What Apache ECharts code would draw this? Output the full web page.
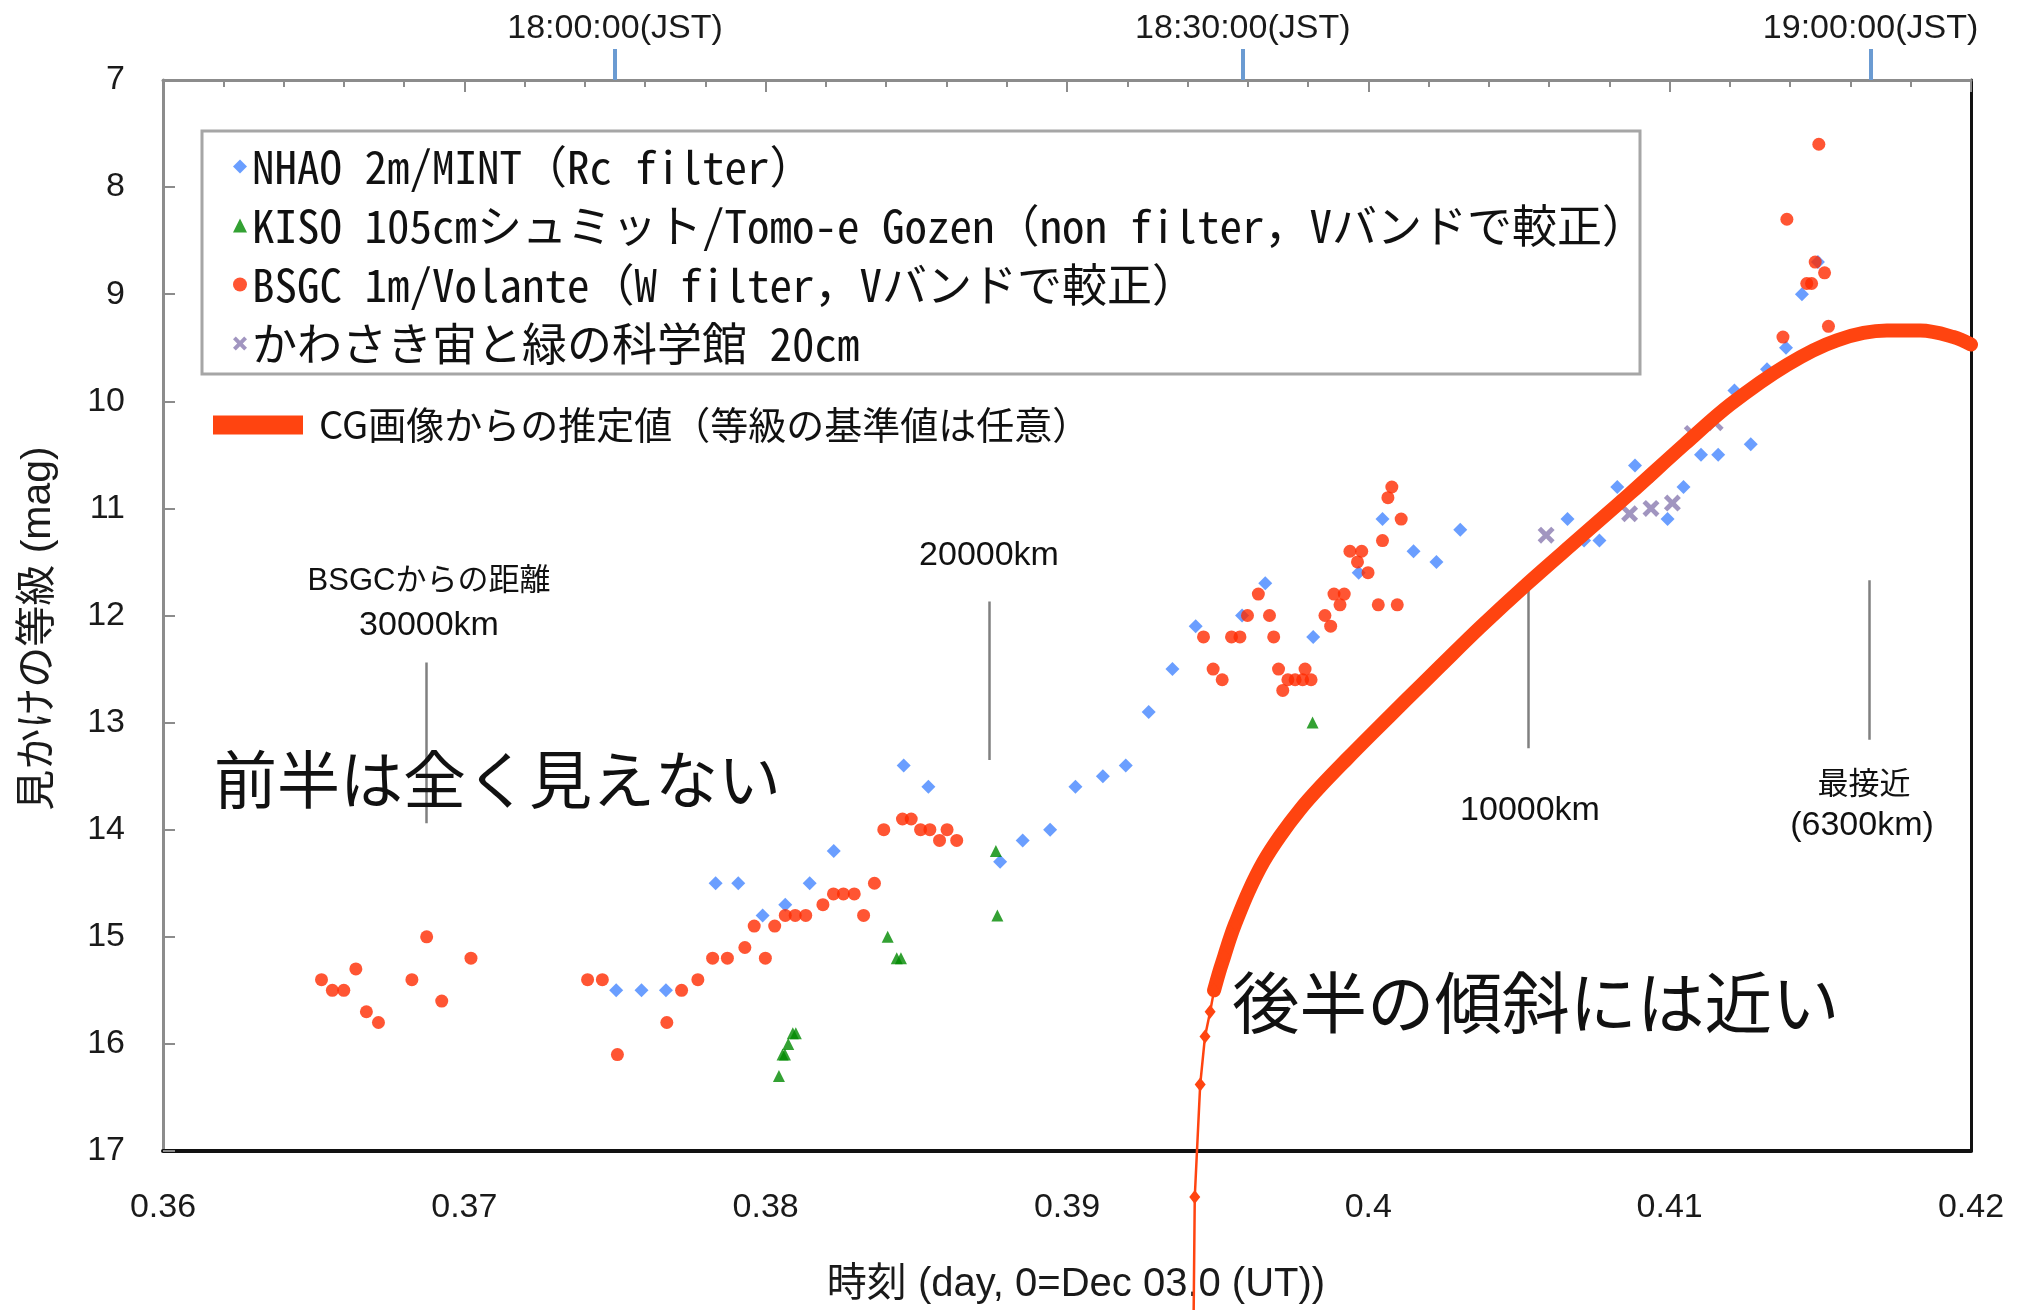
<!DOCTYPE html>
<html><head><meta charset="utf-8">
<script src="https://cdn.jsdelivr.net/npm/echarts@6/dist/echarts.min.js"></script>
<style>html,body{margin:0;padding:0;background:#fff}#c{width:2020px;height:1310px}</style>
</head><body><div id="c"></div>
<script>
// ---- data ----
const nhaoDays = [0.37504,0.37588,0.37669,0.37834,0.37909,0.37990,0.38065,0.38146,0.38226,0.38458,0.38540,0.38778,0.38853,0.38944,0.39028,0.39119,0.39195,0.39271,0.39350,0.39427,0.39581,0.39658,0.39817,0.39968,0.40047,0.40150,0.40226,0.40305,0.40661,0.40716,0.40767,0.40826,0.40885,0.40941,0.40993,0.41046,0.41104,0.41161,0.41215,0.41269,0.41323,0.41386,0.41439,0.41492];
const nhaoMags = [15.5,15.5,15.5,14.5,14.5,14.8,14.7,14.5,14.2,13.4,13.6,14.3,14.1,14.0,13.6,13.5,13.4,12.9,12.5,12.1,12.0,11.7,12.2,11.6,11.1,11.4,11.5,11.2,11.1,11.3,11.3,10.8,10.6,10.7,11.1,10.8,10.5,10.5,9.9,10.4,9.7,9.5,9.0,8.7];

const kisoDays = [0.38044,0.38056,0.38064,0.38075,0.38090,0.38100,0.38405,0.38435,0.38449,0.38764,0.38769,0.39815];
const kisoMags = [16.3,16.1,16.1,16.0,15.9,15.9,15.0,15.2,15.2,14.2,14.8,13.0];

const bsgcDays = [0.36526,0.36562,0.36600,0.36640,0.36675,0.36715,0.36826,0.36875,0.36925,0.37022,
  0.37409,0.37458,0.37508,0.37672,0.37721,0.37775,0.37824,0.37873,0.37931,0.37962,0.37999,0.38030,0.38065,0.38098,0.38133,0.38190,0.38225,0.38258,0.38294,0.38325,0.38361,0.38392,0.38454,0.38483,0.38514,0.38545,0.38577,0.38602,0.38634,
  0.39453,0.39485,0.39515,0.39546,0.39574,0.39599,0.39635,0.39672,0.39686,0.39702,0.39716,0.39733,0.39757,0.39782,0.39790,0.39810,0.39856,0.39875,0.39886,0.39906,0.39920,0.39939,0.39964,0.39978,0.39999,0.40033,0.40047,0.40065,0.40078,0.40096,0.40109,
  0.41376,0.41389,0.41455,0.41471,0.41483,0.41495,0.41514,0.41527];
const bsgcMags = [15.4,15.5,15.5,15.3,15.7,15.8,15.4,15.0,15.6,15.2,
  15.4,15.4,16.1,15.8,15.5,15.4,15.2,15.2,15.1,14.9,15.2,14.9,14.8,14.8,14.8,14.7,14.6,14.6,14.6,14.8,14.5,14.0,13.9,13.9,14.0,14.0,14.1,14.0,14.1,
  12.2,12.5,12.6,12.2,12.2,12.0,11.8,12.0,12.2,12.5,12.7,12.6,12.6,12.6,12.5,12.6,12.0,12.1,11.8,11.9,11.8,11.4,11.5,11.4,11.6,11.9,11.3,10.9,10.8,11.9,11.1,
  9.4,8.3,8.9,8.9,8.7,7.6,8.8,9.3];

const kawasakiDays = [0.40590,0.40867,0.40938,0.41009,0.41075,0.41151];
const kawasakiMags = [11.25,11.05,11.0,10.95,10.3,10.2];

// CG estimate curve (first points: separated markers on the steep part)
const cgDays = [0.39420,0.39424,0.39442,0.39458,0.39475,0.39488,0.39505,0.39522,0.39540,0.39558,0.39602,0.39652,0.39707,0.39774,0.39840,0.39929,0.40010,0.40128,0.40240,0.40371,0.40529,0.40703,0.40796,0.40869,0.41050,0.41201,0.41389,0.41555,0.41721,0.41832,0.41942,0.42000];
const cgMags = [18.6,17.43,16.38,15.93,15.70,15.50,15.33,15.18,15.02,14.88,14.58,14.30,14.06,13.81,13.60,13.34,13.11,12.78,12.47,12.11,11.70,11.27,11.04,10.86,10.40,10.03,9.66,9.43,9.34,9.34,9.40,9.47];
const cgTailEnd = 10;    // points drawn as separate diamonds
const cgBandStart = 5;   // points drawn as the thick band

// distance marker lines
const annotDays = [0.36873,0.38741,0.40532,0.41663];
const annotTop = [12.44,11.87,11.75,11.67];
const annotBottom = [13.94,13.35,13.24,13.16];

// top axis (JST)
const jstTickDays = [0.375, 0.3958333, 0.4166667];
const jstTickLabels = ['18:00:00(JST)','18:30:00(JST)','19:00:00(JST)'];

const seriesNames = ['NHAO 2m/MINT（Rc filter）','KISO 105cmシュミット/Tomo-e Gozen（non filter，Vバンドで較正）','BSGC 1m/Volante（W filter，Vバンドで較正）','かわさき宙と緑の科学館 20cm'];
const cgName = 'CG画像からの推定値（等級の基準値は任意）';
const xAxisTitle = '時刻 (day, 0=Dec 03.0 (UT))';
const yAxisTitle = '見かけの等級 (mag)';

// ---- chart ----
const FONT_NUM = "'Liberation Sans', 'Noto Sans CJK JP', sans-serif";
const FONT_JP = "'Noto Sans CJK JP', sans-serif";
const FONT_LEG = "'Noto Sans Mono CJK JP', 'DejaVu Sans Mono', 'Noto Sans CJK JP', monospace";
const zip = (a, b) => a.map((v, i) => [v, b[i]]);
const X_MARK = 'path://M2,0 L5,3 L8,0 L10,2 L7,5 L10,8 L8,10 L5,7 L2,10 L0,8 L3,5 L0,2 Z';
const cgColor = '#ff4410';
const cgAll = zip(cgDays, cgMags);

const chart = echarts.init(document.getElementById('c'), null, {renderer: 'canvas'});
const txt = (text, x, y, size, family, align) => ({
  type: 'text', x: x, y: y, z: 10,
  style: {text: text, font: size + 'px ' + family, fill: '#111', align: align || 'center', verticalAlign: 'middle'}
});

chart.setOption({
  animation: false,
  backgroundColor: '#fff',
  grid: {left: 163, right: 49, top: 80, bottom: 153},
  xAxis: [
    {type: 'value', position: 'bottom', min: 0.36, max: 0.42, interval: 0.01,
      axisLine: {show: true, onZero: false, lineStyle: {color: '#111', width: 4}},
      axisTick: {show: false}, splitLine: {show: false},
      axisLabel: {fontSize: 34, fontFamily: FONT_NUM, color: '#1a1a1a', margin: 40},
      name: xAxisTitle, nameLocation: 'middle', nameGap: 114,
      nameTextStyle: {fontSize: 40, fontFamily: FONT_NUM, color: '#1a1a1a', padding: [0, 0, 0, 18]}},
    {type: 'value', position: 'top', min: 0.36, max: 0.42, interval: 0.01,
      axisLine: {show: true, onZero: false, lineStyle: {color: '#8c8c8c', width: 3}},
      axisTick: {show: true, inside: true, length: 12, lineStyle: {color: '#8c8c8c', width: 2}},
      minorTick: {show: true, splitNumber: 5, length: 7, lineStyle: {color: '#8c8c8c', width: 2}},
      axisLabel: {show: false}, splitLine: {show: false}},
    {type: 'value', position: 'top', min: 0.36, max: 0.42,
      axisLine: {show: false},
      axisTick: {show: true, inside: false, length: 31, customValues: jstTickDays, lineStyle: {color: '#6b9bd2', width: 4}},
      axisLabel: {show: true, customValues: jstTickDays, margin: 34,
        formatter: function (v) {
          let best = 0;
          jstTickDays.forEach((d, i) => { if (Math.abs(d - v) < Math.abs(jstTickDays[best] - v)) best = i; });
          return jstTickLabels[best];
        },
        fontSize: 34, fontFamily: FONT_NUM, color: '#1a1a1a'},
      splitLine: {show: false}}
  ],
  yAxis: [
    {type: 'value', inverse: true, min: 7, max: 17, interval: 1, position: 'left',
      axisLine: {show: true, onZero: false, lineStyle: {color: '#8c8c8c', width: 3}},
      axisTick: {show: true, inside: true, length: 12, lineStyle: {color: '#8c8c8c', width: 2}},
      axisLabel: {fontSize: 34, fontFamily: FONT_NUM, color: '#1a1a1a', margin: 38},
      splitLine: {show: false},
      name: yAxisTitle, nameLocation: 'middle', nameGap: 104, nameRotate: 90,
      nameTextStyle: {fontSize: 41, fontFamily: FONT_NUM, color: '#1a1a1a', padding: [0, 26, 0, 0]}},
    {type: 'value', inverse: true, min: 7, max: 17, interval: 1, position: 'right',
      axisLine: {show: true, onZero: false, lineStyle: {color: '#111', width: 3}},
      axisTick: {show: false}, axisLabel: {show: false}, splitLine: {show: false}}
  ],
  legend: [
    {data: seriesNames, orient: 'vertical', left: 228, top: 139, itemWidth: 14, itemHeight: 14, itemGap: 14,
      selectedMode: false,
      textStyle: {fontSize: 45, fontFamily: FONT_LEG, color: '#111', lineHeight: 44}},
    {data: [cgName], left: 208, top: 400, itemWidth: 90, itemHeight: 19, icon: 'rect', selectedMode: false,
      textStyle: {fontSize: 38, fontFamily: FONT_JP, color: '#111', lineHeight: 40, padding: [0, 0, 0, 11]}}
  ],
  graphic: [
    {type: 'rect', z: 1, shape: {x: 202, y: 131, width: 1438, height: 243},
      style: {fill: '#fff', stroke: '#a6a6a6', lineWidth: 3}},
    txt('BSGCからの距離', 429, 581, 31, FONT_NUM),
    txt('30000km', 429, 626, 34, FONT_NUM),
    txt('20000km', 989, 556, 34, FONT_NUM),
    txt('10000km', 1530, 811, 34, FONT_NUM),
    txt('最接近', 1864, 782, 31, FONT_JP),
    txt('(6300km)', 1862, 826, 34, FONT_NUM),
    txt('前半は全く見えない', 214, 779, 63, FONT_JP, 'left'),
    txt('後半の傾斜には近い', 1232, 1002, 67.5, FONT_JP, 'left')
  ],
  series: [
    {name: seriesNames[0], type: 'scatter', symbol: 'diamond', symbolSize: 14, z: 3,
      itemStyle: {color: '#4586ff'}, data: zip(nhaoDays, nhaoMags)},
    {name: seriesNames[1], type: 'scatter', symbol: 'triangle', symbolSize: 12, z: 3,
      itemStyle: {color: '#008a00'}, data: zip(kisoDays, kisoMags)},
    {name: seriesNames[2], type: 'scatter', symbol: 'circle', symbolSize: 13, z: 3,
      itemStyle: {color: '#ff2a00'}, data: zip(bsgcDays, bsgcMags)},
    {name: seriesNames[3], type: 'scatter', symbol: X_MARK, symbolSize: 17, z: 3,
      itemStyle: {color: '#8a7bb0'}, data: zip(kawasakiDays, kawasakiMags)},
    {name: 'distance markers', type: 'lines', coordinateSystem: 'cartesian2d', silent: true, z: 2,
      lineStyle: {color: '#808080', width: 2.5, opacity: 1},
      data: annotDays.map((d, i) => ({coords: [[d, annotTop[i]], [d, annotBottom[i]]]}))},
    {name: 'CG steps', type: 'line', data: cgAll.slice(0, cgTailEnd), symbol: 'diamond', symbolSize: [11, 14],
      showSymbol: true, showAllSymbol: true, clip: false, z: 5,
      lineStyle: {color: cgColor, width: 2.5}, itemStyle: {color: cgColor}},
    {name: cgName, type: 'line', data: cgAll.slice(cgBandStart), symbol: 'none', smooth: 0.35,
      clip: false, z: 5,
      lineStyle: {color: cgColor, width: 14, cap: 'round', join: 'round'}, itemStyle: {color: cgColor}}
  ]
});
</script>
</body></html>
